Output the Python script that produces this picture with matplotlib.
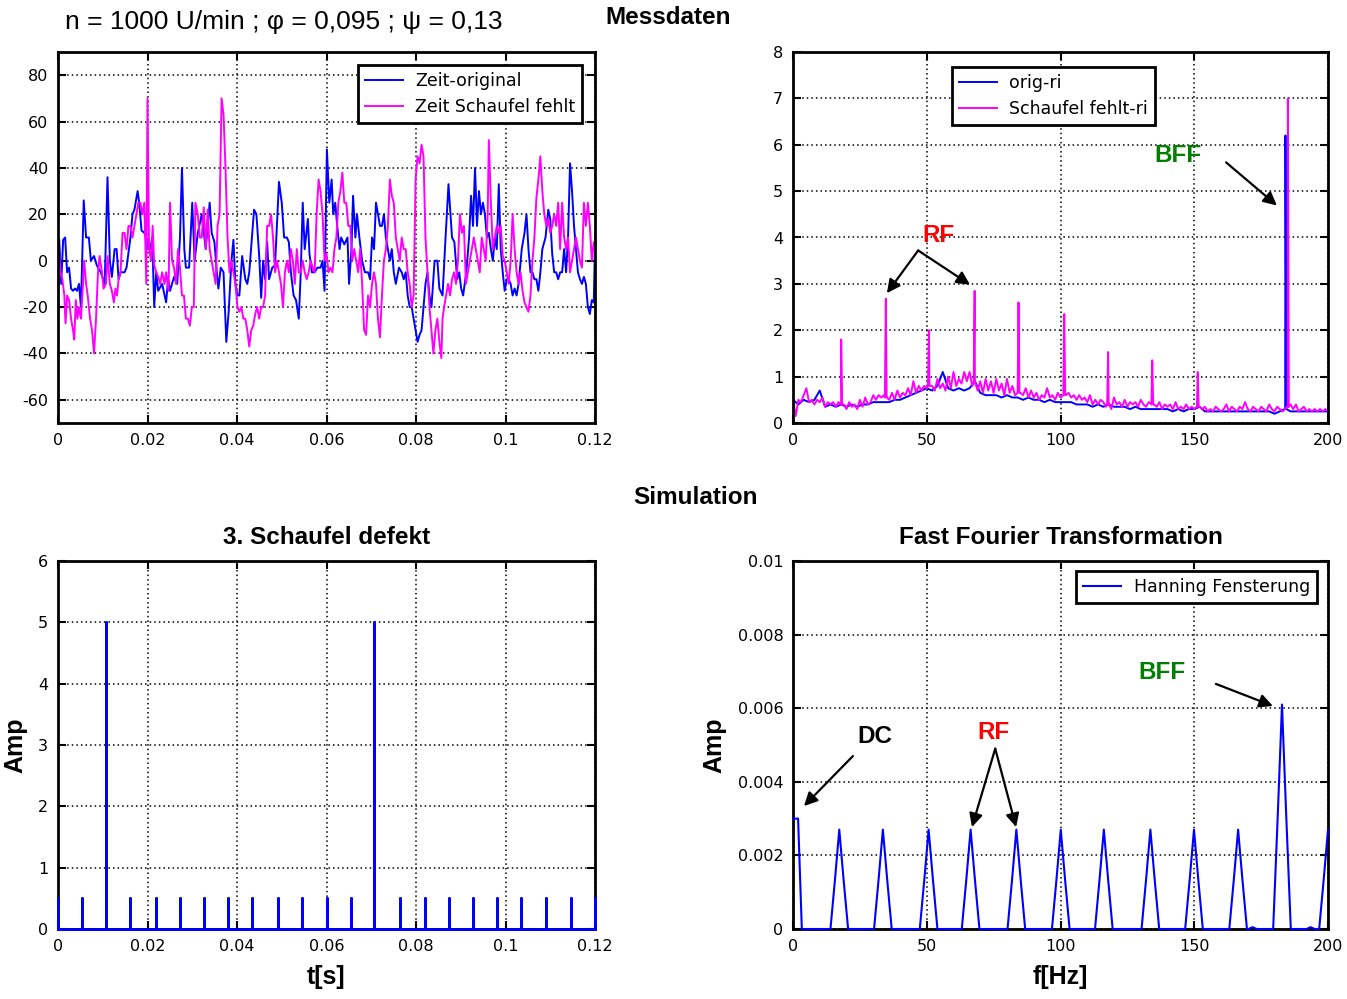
import numpy as np
import matplotlib
matplotlib.use("Agg")
import matplotlib.pyplot as plt

plt.rcParams['font.family'] = ['DejaVu Sans']
plt.rcParams['axes.unicode_minus'] = False

# ---------------- data: Messdaten, time signal (t in ms, value) ----------------
zeit_original = [(0,5),(0.27,9),(0.71,-10),(1.15,9),(1.59,10),(2.04,-5),(2.48,-3),(2.92,-12),(3.36,-13),(3.81,-12),(4.25,-13),(4.69,-10),(5.13,-20),(5.75,26),(6.28,10),(6.90,10),(7.35,0),(8.05,2),(8.67,-2),(9.56,-5),(10.44,-10),(11.06,36),(11.59,0),(12.04,-7),(12.65,5),(13.10,5),(13.54,-8),(13.98,-5),(14.87,-5),(15.31,-3),(16.19,10),(16.64,20),(17.08,22),(17.79,30),(18.14,25),(18.67,13),(19.29,12),(19.73,10),(20.18,5),(20.62,5),(21.06,10),(21.50,-20),(21.95,-5),(22.39,-13),(23.27,-10),(24.16,-18),(24.60,-8),(25.04,-13),(25.93,-7),(26.64,-10),(27.26,10),(27.70,40),(28.23,5),(28.58,-3),(29.29,-3),(30.0,25),(30.53,0),(31.24,12),(32.12,20),(33.01,5),(33.89,25),(34.34,12),(34.96,8),(35.49,-5),(35.84,-12),(36.37,-3),(36.99,-5),(37.61,-35),(38.14,-22),(38.76,0),(39.20,9),(39.65,-10),(40.09,-15),(40.53,-15),(41.15,2),(41.86,-8),(42.30,-10),(42.74,-5),(43.81,22),(44.34,20),(44.96,2),(45.40,-16),(45.84,0),(46.28,-8),(46.73,8),(47.17,-8),(47.88,-3),(48.50,-2),(49.38,34),(50.0,25),(50.53,10),(51.15,10),(51.59,8),(52.04,-5),(52.65,-15),(53.19,-17),(53.81,-25),(54.25,-5),(54.69,25),(55.13,5),(55.84,18),(56.19,3),(56.73,-5),(57.35,-5),(57.96,-3),(58.67,-3),(59.12,0),(59.56,-13),(60.09,48),(60.62,25),(61.15,35),(61.50,20),(61.95,25),(62.39,15),(62.92,5),(63.27,10),(63.98,7),(64.69,10),(65.04,-10),(65.58,5),(65.93,28),(66.46,10),(66.81,20),(67.35,10),(67.96,0),(68.58,-5),(69.29,-5),(69.73,-8),(70.18,10),(70.62,5),(71.06,25),(71.50,20),(71.95,15),(72.39,15),(72.83,20),(73.27,10),(73.72,5),(74.16,0),(74.60,5),(75.04,-5),(75.49,-10),(76.19,-3),(76.81,-5),(77.26,-8),(77.70,-5),(78.14,-15),(78.58,-20),(79.03,-20),(79.47,-25),(79.91,-30),(80.35,-35),(80.80,-32),(81.24,-30),(81.68,-20),(82.12,-10),(82.57,-5),(83.01,-15),(83.45,-20),(84.16,0),(84.78,0),(85.22,-12),(85.93,-15),(86.55,8),(87.26,33),(87.70,20),(88.05,10),(88.58,8),(89.20,-8),(89.65,-5),(90.09,-12),(90.53,-15),(91.24,-5),(91.86,10),(92.30,28),(92.74,15),(93.19,40),(93.63,15),(94.07,30),(94.51,20),(94.96,25),(95.40,20),(95.84,10),(96.28,12),(96.73,5),(97.17,0),(97.61,10),(98.05,5),(98.50,33),(98.94,5),(99.38,-5),(99.82,-13),(100.27,-8),(100.71,-8),(101.15,-10),(101.59,-15),(102.04,-12),(102.48,-15),(102.92,-10),(103.63,5),(104.25,12),(104.69,20),(105.13,5),(105.58,-5),(106.02,-5),(106.46,-8),(106.90,-8),(107.35,-13),(107.79,-5),(108.23,5),(108.94,10),(109.56,22),(110.0,18),(110.44,3),(110.88,-5),(111.33,-5),(111.77,-8),(112.21,-5),(112.65,-5),(113.10,5),(113.54,-5),(113.98,10),(114.42,42),(114.87,30),(115.31,15),(115.75,5),(116.19,-5),(116.64,-8),(117.08,-10),(117.52,-7),(117.96,-10),(118.41,-20),(118.85,-23),(119.29,-17),(119.73,-18),(120.0,8)]

zeit_schaufel_fehlt = [(0,-3),(0.27,2),(0.53,-5),(0.97,-8),(1.42,-15),(1.68,-27),(2.04,-15),(2.48,-17),(2.92,-25),(3.36,-30),(3.63,-34),(3.98,-17),(4.34,-25),(4.69,-20),(5.13,-25),(5.58,-10),(5.84,0),(6.28,-10),(6.64,-15),(7.17,-25),(7.61,-30),(8.05,-40),(8.50,-25),(8.94,-5),(9.29,2),(9.82,-5),(10.18,-12),(10.71,-10),(11.06,2),(11.59,-10),(12.04,-13),(12.48,-18),(12.83,-12),(13.19,-15),(13.54,-8),(13.98,-5),(14.42,12),(14.87,12),(15.31,5),(15.75,15),(16.19,15),(16.64,10),(17.08,15),(17.52,20),(17.96,25),(18.41,25),(18.85,20),(19.29,25),(19.73,-10),(20.0,70),(20.35,5),(20.80,0),(21.15,15),(21.50,-2),(21.95,-5),(22.39,-7),(22.83,-10),(23.27,-5),(23.81,-10),(24.16,-5),(24.69,-13),(25.04,25),(25.49,0),(25.93,-3),(26.37,-10),(26.81,5),(27.26,-3),(27.70,-15),(28.14,-15),(28.58,-25),(29.03,-25),(29.47,-28),(29.91,-20),(30.35,-20),(30.71,25),(31.24,20),(31.68,10),(32.12,10),(32.57,23),(33.01,5),(33.45,22),(33.89,5),(34.34,0),(34.78,-5),(35.22,-10),(35.66,15),(36.11,20),(36.55,70),(36.99,63),(37.43,40),(37.88,10),(38.32,-5),(38.76,0),(39.20,-5),(39.65,-10),(40.09,-20),(40.53,-22),(40.97,-20),(41.42,-25),(41.86,-25),(42.30,-30),(42.74,-37),(43.19,-30),(43.63,-28),(44.07,-23),(44.51,-20),(44.96,-25),(45.40,-20),(45.84,-20),(46.28,-15),(46.73,15),(47.17,15),(47.61,20),(48.05,10),(48.50,-5),(48.94,0),(49.38,-5),(49.82,-10),(50.27,-20),(50.71,-5),(51.15,0),(51.59,-5),(52.04,5),(52.48,0),(52.92,-10),(53.36,5),(53.81,-5),(54.25,-5),(54.69,0),(55.13,-5),(55.58,-8),(56.02,-5),(56.46,0),(56.90,-3),(57.35,-5),(57.79,20),(58.23,35),(58.67,30),(59.12,20),(59.56,0),(60.0,3),(60.44,-5),(60.88,-3),(61.33,-5),(61.77,5),(62.21,10),(62.65,25),(63.10,30),(63.54,38),(63.98,25),(64.42,25),(64.87,15),(65.31,15),(65.75,0),(66.19,5),(66.64,0),(67.08,-5),(67.52,5),(67.96,-10),(68.41,-30),(68.85,-32),(69.29,-15),(69.73,-20),(70.18,-10),(70.62,-5),(71.06,-10),(71.50,-25),(71.95,-33),(72.39,-15),(72.83,0),(73.27,5),(73.72,15),(74.16,35),(74.60,28),(75.04,25),(75.49,10),(75.93,5),(76.37,0),(76.81,10),(77.26,5),(77.70,5),(78.14,-5),(78.58,-10),(79.03,-20),(79.47,-15),(79.91,35),(80.35,45),(80.80,42),(81.24,50),(81.68,45),(82.12,10),(82.57,-5),(83.01,-20),(83.45,-30),(83.89,-40),(84.34,-30),(84.78,-25),(85.22,-35),(85.66,-42),(85.93,-25),(86.28,-20),(86.73,-15),(87.17,-10),(87.61,-15),(88.05,-8),(88.50,-5),(88.94,-10),(89.38,0),(89.82,20),(90.27,12),(90.71,15),(91.15,-10),(91.59,-5),(92.04,0),(92.48,5),(92.92,10),(93.36,5),(93.81,0),(94.25,-5),(94.69,10),(95.13,5),(95.58,0),(96.02,20),(96.28,52),(96.73,25),(97.17,5),(97.61,10),(98.05,15),(98.50,12),(98.94,15),(99.38,2),(99.82,0),(100.27,-5),(100.71,-10),(101.15,0),(101.59,20),(102.04,5),(102.48,-5),(102.92,-10),(103.36,-5),(103.81,-13),(104.25,-18),(104.69,-20),(105.13,-22),(105.58,-15),(106.02,0),(106.46,10),(106.90,27),(107.35,35),(107.79,45),(108.23,30),(108.67,20),(109.12,15),(109.56,18),(110.0,12),(110.44,15),(110.88,20),(111.33,15),(111.77,25),(112.21,5),(112.65,25),(113.10,10),(113.54,5),(113.98,10),(114.42,-5),(114.87,0),(115.31,5),(115.75,10),(116.19,5),(116.64,0),(117.08,-3),(117.52,25),(117.96,15),(118.41,25),(118.85,15),(119.29,0),(119.73,8),(120.0,8)]

# ---------------- data: Messdaten, spectrum ----------------
orig_ri_freq = list(range(0, 201, 2))
orig_ri_amp = [0.5,0.4,0.5,0.45,0.5,0.7,0.35,0.4,0.35,0.4,0.35,0.4,0.35,0.4,0.4,0.45,0.45,0.45,0.45,0.5,
               0.5,0.55,0.6,0.65,0.7,0.75,0.7,0.8,1.1,0.75,0.7,0.75,0.7,0.75,0.9,0.65,0.6,0.6,0.6,0.55,
               0.6,0.55,0.55,0.5,0.55,0.5,0.5,0.45,0.5,0.45,0.45,0.45,0.45,0.4,0.4,0.4,0.35,0.4,0.35,0.4,
               0.35,0.35,0.35,0.3,0.35,0.3,0.3,0.3,0.3,0.3,0.3,0.25,0.3,0.25,0.3,0.3,0.35,0.25,0.25,0.25,
               0.25,0.25,0.25,0.25,0.25,0.25,0.25,0.25,0.25,0.25,0.2,0.25,0.3,0.25,0.25,0.25,0.25,0.25,0.25,0.25,0.25]
orig_ri_peak_f = [184.1]
orig_ri_peak_a = [6.2]
orig_ri_peak_base = [0.3]

fehlt_ri_freq = list(range(0, 201))
fehlt_ri_amp = [0.5,0.15,0.5,0.45,0.6,0.75,0.45,0.5,0.4,0.5,
                0.45,0.55,0.35,0.45,0.4,0.45,0.35,0.45,0.4,0.4,
                0.3,0.45,0.35,0.4,0.3,0.5,0.35,0.55,0.4,0.45,
                0.6,0.5,0.6,0.55,0.6,0.55,0.5,0.65,0.5,0.7,
                0.55,0.65,0.6,0.75,0.6,0.9,0.65,0.8,0.7,0.8,
                0.75,0.8,0.8,0.7,0.95,0.75,0.85,0.7,1.0,0.75,
                1.1,0.8,0.95,0.85,1.1,0.9,1.1,0.8,0.9,0.7,
                0.9,0.65,0.95,0.7,0.9,0.65,0.95,0.7,0.85,0.6,
                0.95,0.65,0.8,0.6,0.7,0.65,0.6,0.75,0.55,0.7,
                0.55,0.65,0.5,0.6,0.55,0.75,0.55,0.6,0.5,0.65,
                0.55,0.6,0.6,0.65,0.55,0.6,0.5,0.6,0.5,0.55,
                0.45,0.6,0.4,0.5,0.4,0.5,0.45,0.35,0.4,0.3,
                0.55,0.4,0.45,0.35,0.5,0.35,0.45,0.4,0.45,0.35,
                0.5,0.4,0.35,0.45,0.4,0.4,0.35,0.45,0.3,0.4,
                0.35,0.4,0.3,0.45,0.3,0.35,0.3,0.4,0.3,0.35,
                0.3,0.35,0.35,0.3,0.35,0.25,0.3,0.25,0.35,0.3,
                0.25,0.3,0.4,0.25,0.35,0.3,0.25,0.35,0.3,0.45,
                0.3,0.25,0.35,0.3,0.25,0.35,0.3,0.25,0.4,0.3,
                0.25,0.35,0.3,0.25,0.3,0.35,0.4,0.3,0.4,0.25,
                0.3,0.35,0.25,0.3,0.25,0.3,0.25,0.3,0.25,0.3,0.25]
fehlt_ri_peak_f = [18.0, 34.7, 50.8, 67.9, 84.3, 101.4, 117.8, 134.3, 151.3, 185.0]
fehlt_ri_peak_a = [1.8, 2.68, 2.0, 2.85, 2.6, 2.35, 1.53, 1.35, 1.1, 7.0]
fehlt_ri_peak_base = [0.4, 0.55, 0.8, 0.85, 0.65, 0.6, 0.4, 0.4, 0.35, 0.35]

# ---------------- data: Simulation ----------------
pulse_t_ms = [0, 5.3, 10.7, 16.1, 21.9, 27.3, 32.7, 38.1, 43.4, 49.2, 54.6, 60.0,
              65.4, 70.7, 76.5, 81.9, 87.3, 92.7, 98.0, 103.5, 109.0, 114.6, 120.0]
pulse_amp = [0.5, 0.5, 5, 0.5, 0.5, 0.5, 0.5, 0.5, 0.5, 0.5, 0.5, 0.5,
             0.5, 5, 0.5, 0.5, 0.5, 0.5, 0.5, 0.5, 0.5, 0.5, 0.5]

fft_peak_f = [17.3, 33.6, 50.7, 66.4, 83.5, 100.1, 116.2, 133.6, 149.9, 166.4, 182.8, 200.0]
fft_peak_a = [0.0027, 0.0027, 0.0027, 0.0027, 0.0027, 0.0027, 0.0027, 0.0027, 0.0027, 0.0027, 0.0061, 0.0027]
fft_dc_f = [0.0, 1.9, 3.3]
fft_dc_a = [0.003, 0.003, 0.0]
fft_small_f = [171.8, 193.5]
fft_small_a = [0.00005, 0.00005]

# ---------------- styling helpers ----------------
BLUE = '#0000ff'
MAG = '#ff00ff'
W, H = 1347, 999
fig = plt.figure(figsize=(W/100, H/100), dpi=100)

def ax_at(x0, y0, x1, y1):
    return fig.add_axes([x0/W, 1 - y1/H, (x1-x0)/W, (y1-y0)/H])

def style(ax):
    ax.grid(True, color='black', linestyle=(0, (1, 2)), linewidth=1.1)
    for s in ax.spines.values():
        s.set_linewidth(2)
    ax.tick_params(direction='in', top=True, right=True, length=6, width=1.5,
                   labelsize=11.5, pad=7)

BOLD = dict(family=['Liberation Sans', 'DejaVu Sans'], fontweight='bold')

def legend(ax, loc, anchor):
    lg = ax.legend(loc=loc, bbox_to_anchor=anchor, borderaxespad=0, fancybox=False,
                   edgecolor='black', framealpha=1, fontsize=12.5, handlelength=2.2,
                   borderpad=0.4, labelspacing=0.45, handletextpad=0.7)
    lg.get_frame().set_linewidth(2)

def arrow(ax, xy, xytext):
    ax.annotate('', xy=xy, xytext=xytext,
                arrowprops=dict(arrowstyle='-|>', color='black', lw=1.6, mutation_scale=20,
                                shrinkA=0, shrinkB=0))

# ---------------- top left: time signals ----------------
ax1 = ax_at(58, 52, 595, 423)
tb, vb = zip(*zeit_original)
tm, vm = zip(*zeit_schaufel_fehlt)
ax1.plot(np.array(tb)/1000, vb, color=BLUE, lw=1.4, label='Zeit-original')
ax1.plot(np.array(tm)/1000, vm, color=MAG, lw=1.4, label='Zeit Schaufel fehlt')
ax1.set_xlim(0, 0.12)
ax1.set_ylim(-70, 90)
ax1.set_xticks([0, 0.02, 0.04, 0.06, 0.08, 0.1, 0.12])
ax1.set_xticklabels(['0', '0.02', '0.04', '0.06', '0.08', '0.1', '0.12'])
ax1.set_yticks([-60, -40, -20, 0, 20, 40, 60, 80])
style(ax1)
legend(ax1, 'upper right', (0.976, 0.965))

# ---------------- top right: spectrum ----------------
ax2 = ax_at(793, 52, 1328, 423)

def spectrum(freq, amp, pf, pa, pb):
    f = list(freq)
    a = list(amp)
    for p, h, b in zip(pf, pa, pb):
        f += [p - 0.35, p, p + 0.35]
        a += [b, h, b]
    order = np.argsort(f, kind='stable')
    return np.array(f)[order], np.array(a)[order]

f_o, a_o = spectrum(orig_ri_freq, orig_ri_amp, orig_ri_peak_f, orig_ri_peak_a, orig_ri_peak_base)
f_m, a_m = spectrum(fehlt_ri_freq, fehlt_ri_amp, fehlt_ri_peak_f, fehlt_ri_peak_a, fehlt_ri_peak_base)
ax2.plot(f_o, a_o, color=BLUE, lw=1.4, label='orig-ri')
ax2.plot(f_m, a_m, color=MAG, lw=1.4, label='Schaufel fehlt-ri')
ax2.set_xlim(0, 200)
ax2.set_ylim(0, 8)
ax2.set_xticks([0, 50, 100, 150, 200])
ax2.set_yticks(range(0, 9))
style(ax2)
legend(ax2, 'upper left', (0.297, 0.96))
ax2.text(54.5, 4.04, 'RF', color='red', fontsize=17.5, ha='center', va='center', **BOLD)
arrow(ax2, (35.1, 2.8), (46.8, 3.72))
arrow(ax2, (66.2, 2.98), (46.8, 3.72))
ax2.text(144.0, 5.77, 'BFF', color='#008000', fontsize=17.5, ha='center', va='center', **BOLD)
arrow(ax2, (180.9, 4.69), (161.9, 5.62))

# ---------------- bottom left: simulated pulses ----------------
ax3 = ax_at(58, 561, 595, 929)
px, py = [], []
for t, a in zip(pulse_t_ms, pulse_amp):
    px += [t/1000, t/1000, t/1000]
    py += [0, a, 0]
ax3.plot(px, py, color=BLUE, lw=2, zorder=3, clip_on=False)
ax3.set_xlim(0, 0.12)
ax3.set_ylim(0, 6)
ax3.set_xticks([0, 0.02, 0.04, 0.06, 0.08, 0.1, 0.12])
ax3.set_xticklabels(['0', '0.02', '0.04', '0.06', '0.08', '0.1', '0.12'])
ax3.set_yticks(range(0, 7))
style(ax3)
ax3.set_title('3. Schaufel defekt', fontsize=17.5, pad=12, **BOLD)
ax3.set_xlabel('t[s]', fontsize=18, labelpad=8, **BOLD)
ax3.set_ylabel('Amp', fontsize=18, labelpad=8, **BOLD)

# ---------------- bottom right: FFT ----------------
ax4 = ax_at(793, 561, 1328, 929)
ff, fa = list(fft_dc_f), list(fft_dc_a)
for p, h in zip(fft_peak_f, fft_peak_a):
    ff += [p - 3.3, p - 1.6, p, p + 1.6, p + 3.3]
    fa += [0, h * 0.5, h, h * 0.5, 0]
for p, h in zip(fft_small_f, fft_small_a):
    ff += [p - 1.5, p, p + 1.5]
    fa += [0, h, 0]
order = np.argsort(ff, kind='stable')
ff = np.array(ff)[order]
fa = np.array(fa)[order]
keep = ff <= 200
ax4.plot(ff[keep], fa[keep], color=BLUE, lw=1.5, label='Hanning Fensterung', zorder=3, clip_on=False)
ax4.set_xlim(0, 200)
ax4.set_ylim(0, 0.01)
ax4.set_xticks([0, 50, 100, 150, 200])
ax4.set_yticks([0, 0.002, 0.004, 0.006, 0.008, 0.01])
ax4.set_yticklabels(['0', '0.002', '0.004', '0.006', '0.008', '0.01'])
style(ax4)
legend(ax4, 'upper right', (0.979, 0.973))
ax4.set_title('Fast Fourier Transformation', fontsize=17.5, pad=12, **BOLD)
ax4.set_xlabel('f[Hz]', fontsize=18, labelpad=8, **BOLD)
ax4.set_ylabel('Amp', fontsize=18, labelpad=8, **BOLD)
ax4.text(30.7, 0.00522, 'DC', color='black', fontsize=17.5, ha='center', va='center', **BOLD)
arrow(ax4, (4.1, 0.00334), (22.4, 0.0047))
ax4.text(75.1, 0.00533, 'RF', color='red', fontsize=17.5, ha='center', va='center', **BOLD)
arrow(ax4, (66.9, 0.00277), (75.6, 0.0049))
arrow(ax4, (83.4, 0.00277), (75.6, 0.0049))
ax4.text(138.0, 0.00698, 'BFF', color='#008000', fontsize=17.5, ha='center', va='center', **BOLD)
arrow(ax4, (179.4, 0.00606), (158.1, 0.00666))

# ---------------- figure texts ----------------
fig.text(65/W, 1 - 22/H, 'n = 1000 U/min ; φ = 0,095 ; ψ = 0,13', fontsize=19,
         family=['Liberation Sans', 'DejaVu Sans'], ha='left', va='center')
fig.text(668/W, 1 - 17/H, 'Messdaten', fontsize=17.5, ha='center', va='center', **BOLD)
fig.text(696/W, 1 - 498/H, 'Simulation', fontsize=17.5, ha='center', va='center', **BOLD)

fig.savefig('out.png', dpi=100)
